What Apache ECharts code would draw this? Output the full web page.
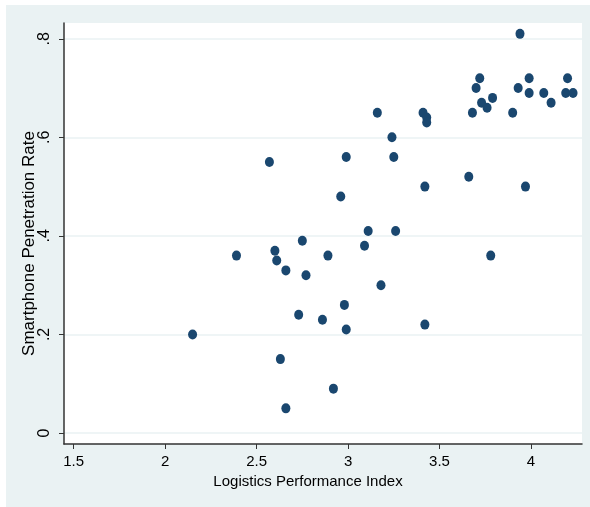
<!DOCTYPE html>
<html>
<head>
<meta charset="utf-8">
<script src="https://cdn.jsdelivr.net/npm/echarts@6/dist/echarts.min.js"></script>
<style>
  html, body { margin: 0; padding: 0; background: #ffffff; }
  #chart { position: absolute; left: 6px; top: 5px; width: 584px; height: 502px; }
</style>
</head>
<body>
<div id="chart"></div>
<script>
// Logistics Performance Index (x) vs Smartphone Penetration Rate (y)
const lpi = [
  2.15, 2.39, 2.57, 2.60, 2.61, 2.63, 2.66, 2.66, 2.73, 2.75,
  2.77, 2.86, 2.89, 2.92, 2.96, 2.98, 2.99, 2.99, 3.09, 3.11,
  3.16, 3.18, 3.24, 3.25, 3.26, 3.41, 3.42, 3.42, 3.43, 3.43,
  3.66, 3.68, 3.70, 3.72, 3.73, 3.76, 3.78, 3.79, 3.90, 3.93,
  3.94, 3.97, 3.99, 3.99, 4.07, 4.11, 4.19, 4.20, 4.23
];
const penetration = [
  0.20, 0.36, 0.55, 0.37, 0.35, 0.15, 0.33, 0.05, 0.24, 0.39,
  0.32, 0.23, 0.36, 0.09, 0.48, 0.26, 0.21, 0.56, 0.38, 0.41,
  0.65, 0.30, 0.60, 0.56, 0.41, 0.65, 0.22, 0.50, 0.64, 0.63,
  0.52, 0.65, 0.70, 0.72, 0.67, 0.66, 0.36, 0.68, 0.65, 0.70,
  0.81, 0.50, 0.72, 0.69, 0.69, 0.67, 0.69, 0.72, 0.69
];
const xTicks = [1.5, 2, 2.5, 3, 3.5, 4];
const xTickLabels = ['1.5', '2', '2.5', '3', '3.5', '4'];
const yTicks = [0, 0.2, 0.4, 0.6, 0.8];
const yTickLabels = ['0', '.2', '.4', '.6', '.8'];

const points = lpi.map((x, i) => [x, penetration[i]]);
const fontFamily = '"Liberation Sans", Arial, sans-serif';

const chart = echarts.init(document.getElementById('chart'), null, { renderer: 'canvas' });
chart.setOption({
  backgroundColor: '#EAF2F3',
  animation: false,
  grid: {
    left: 58, top: 18, right: 8, bottom: 63,
    show: true, backgroundColor: '#ffffff', borderWidth: 0
  },
  xAxis: {
    type: 'value',
    min: 1.447, max: 4.279,
    name: 'Logistics Performance Index',
    nameLocation: 'middle',
    nameGap: 27,
    nameTextStyle: { color: '#000', fontSize: 15, fontFamily: fontFamily, padding: [0, 30, 0, 0] },
    axisLine: { show: true, onZero: false, lineStyle: { color: '#333', width: 1.5 } },
    axisTick: { show: true, length: 5, lineStyle: { color: '#333', width: 1 }, customValues: xTicks },
    axisLabel: {
      color: '#000', fontSize: 15, fontFamily: fontFamily, margin: 10,
      customValues: xTicks,
      formatter: v => xTickLabels[xTicks.findIndex(t => Math.abs(t - v) < 1e-9)]
    },
    splitLine: { show: false }
  },
  yAxis: {
    type: 'value',
    min: -0.0223, max: 0.832,
    name: 'Smartphone Penetration Rate',
    nameLocation: 'middle',
    nameRotate: 90,
    nameGap: 26,
    nameMoveOverlap: false,
    nameTextStyle: { color: '#000', fontSize: 17, fontFamily: fontFamily, padding: [0, 20, 0, 0] },
    axisLine: { show: true, onZero: false, lineStyle: { color: '#333', width: 1.5 } },
    axisTick: { show: true, length: 5, lineStyle: { color: '#333', width: 1 }, customValues: yTicks },
    axisLabel: {
      color: '#000', fontSize: 16, fontFamily: fontFamily, margin: 11, rotate: 90,
      customValues: yTicks,
      formatter: v => yTickLabels[yTicks.findIndex(t => Math.abs(t - v) < 1e-9)]
    },
    splitLine: { show: true, lineStyle: { color: '#EAF2F3', width: 1.5 } }
  },
  series: [{
    type: 'scatter',
    data: points,
    symbol: 'circle',
    symbolSize: [9, 10],
    itemStyle: { color: '#1A476F', opacity: 1 },
    z: 3
  }]
});
</script>
</body>
</html>
